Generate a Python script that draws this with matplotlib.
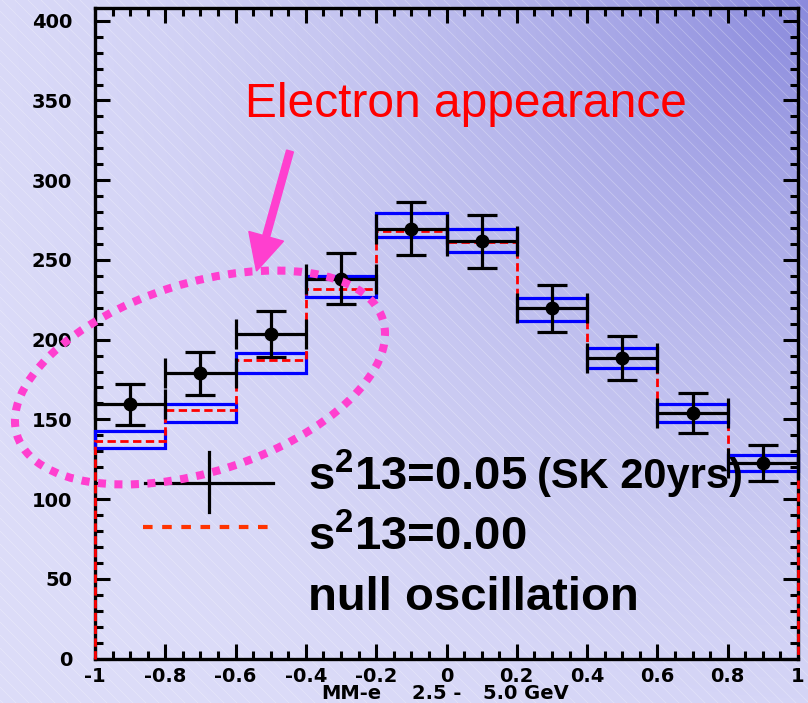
import numpy as np
import matplotlib
matplotlib.use("Agg")
import matplotlib.pyplot as plt
from matplotlib.patches import Rectangle, Ellipse, FancyArrow
from matplotlib.collections import LineCollection
from matplotlib.lines import Line2D
from matplotlib.transforms import IdentityTransform
from matplotlib.ticker import MultipleLocator, FixedLocator, FixedFormatter

plt.rcParams['font.family'] = ['Liberation Sans', 'DejaVu Sans']
plt.rcParams['mathtext.fontset'] = 'custom'
plt.rcParams['mathtext.rm'] = 'Liberation Sans:bold'
plt.rcParams['mathtext.bf'] = 'Liberation Sans:bold'
plt.rcParams['mathtext.it'] = 'Liberation Sans:bold'

# ---------------- data ----------------
bin_edges = [-1.0, -0.8, -0.6, -0.4, -0.2, 0.0, 0.2, 0.4, 0.6, 0.8, 1.0]
bin_centers = [-0.9, -0.7, -0.5, -0.3, -0.1, 0.1, 0.3, 0.5, 0.7, 0.9]
s13_005 = [159.4, 178.9, 203.5, 238.3, 269.6, 261.6, 219.6, 188.5, 153.8, 122.7]
s13_005_err = [12.7, 13.6, 14.6, 16.0, 16.5, 16.5, 14.6, 13.7, 12.5, 11.2]
s13_000 = [136.2, 155.8, 187.2, 231.5, 268.3, 261.4, 219.6, 188.2, 153.8, 122.7]
null_upper = [142.9, 159.6, 191.4, 239.9, 279.2, 269.4, 225.9, 194.7, 159.6, 127.7]
null_lower = [132.2, 148.5, 179.3, 226.5, 264.5, 254.7, 211.7, 182.2, 148.2, 117.9]
x_ticks = [-1.0, -0.8, -0.6, -0.4, -0.2, 0.0, 0.2, 0.4, 0.6, 0.8, 1.0]
x_tick_labels = ["-1", "-0.8", "-0.6", "-0.4", "-0.2", "0", "0.2", "0.4", "0.6", "0.8", "1"]
y_ticks = [0, 50, 100, 150, 200, 250, 300, 350, 400]
y_tick_labels = ["0", "50", "100", "150", "200", "250", "300", "350", "400"]

W, H = 808, 703
fig = plt.figure(figsize=(W / 100, H / 100), dpi=100)

def fx(px):
    return px / W

def fy(py):
    return 1 - py / H

# ---------------- background ----------------
bg = fig.add_axes([0, 0, 1, 1], zorder=-10)
xx, yy = np.meshgrid(np.arange(W), np.arange(H))
d = np.sqrt((W - xx) ** 2 + (yy * 1.0) ** 2)
f = np.clip(1 - d / 1000.0, 0, 1) ** 2
light = np.array([0.865, 0.865, 0.975])
dark = np.array([0.54, 0.54, 0.865])
img = light[None, None, :] * (1 - f[..., None]) + dark[None, None, :] * f[..., None]
bg.imshow(img, extent=[0, W, H, 0], aspect='auto', interpolation='bilinear')
segs = []
for c in range(-W, H, 13):
    segs.append([(0, c), (W, c + W)])
bg.add_collection(LineCollection(segs, colors='white', linewidths=0.6, alpha=0.28))
bg.set_xlim(0, W)
bg.set_ylim(H, 0)
bg.axis('off')

# ---------------- main axes ----------------
ax = fig.add_axes([fx(95), fy(658.5), fx(798) - fx(95), (658.5 - 8.3) / H])
ax.set_facecolor('none')
ax.set_xlim(-1, 1)
ax.set_ylim(0, 407.8)

# null oscillation boxes
for i in range(len(bin_centers)):
    r = Rectangle((bin_edges[i], null_lower[i]), bin_edges[i + 1] - bin_edges[i],
                  null_upper[i] - null_lower[i], fill=False, edgecolor='#0000ff',
                  linewidth=2.3, zorder=2.6, clip_on=False)
    ax.add_patch(r)

# s13 = 0.00 histogram
ax.stairs(s13_000, bin_edges, baseline=0, color='#ff0000', linewidth=2.0,
          linestyle=(0, (3, 1.6)), zorder=3, clip_on=False)

# s13 = 0.05 data
half = np.diff(bin_edges) / 2
ax.errorbar(bin_centers, s13_005, xerr=half, yerr=s13_005_err, fmt='o', color='black',
            markersize=9, linewidth=2.3, capsize=11, capthick=2.3, zorder=4, clip_on=False)

# ticks
for sp in ax.spines.values():
    sp.set_linewidth(2.4)
    sp.set_zorder(2.5)
ax.xaxis.set_major_locator(FixedLocator(x_ticks))
ax.xaxis.set_major_formatter(FixedFormatter(x_tick_labels))
ax.xaxis.set_minor_locator(MultipleLocator(0.05))
ax.yaxis.set_major_locator(FixedLocator(y_ticks))
ax.yaxis.set_major_formatter(FixedFormatter(y_tick_labels))
ax.yaxis.set_minor_locator(MultipleLocator(10))
ax.tick_params(which='both', direction='in', top=True, right=True, width=2.2)
ax.tick_params(which='major', length=11)
ax.tick_params(which='minor', length=5.5)
ax.tick_params(axis='y', which='major', pad=16.5)
ax.tick_params(axis='x', which='major', pad=6)
for lab in ax.get_xticklabels() + ax.get_yticklabels():
    lab.set_fontfamily('DejaVu Sans')
    lab.set_fontweight('bold')
    lab.set_fontsize(14)

# x axis title (ROOT style)
xl_kw = dict(family='DejaVu Sans', fontweight='bold', fontsize=14, va='baseline', ha='left')
fig.text(fx(321), fy(699), "MM-e", **xl_kw)
fig.text(fx(412), fy(699), "2.5 -", **xl_kw)
fig.text(fx(483), fy(699), "5.0 GeV", **xl_kw)

# ---------------- legend ----------------
fig.add_artist(Line2D([fx(145), fx(273)], [fy(483), fy(483)], color='black', linewidth=2.3))
fig.add_artist(Line2D([fx(209), fx(209)], [fy(452), fy(512)], color='black', linewidth=2.3))
fig.add_artist(Line2D([fx(143), fx(272)], [fy(527), fy(527)], color='#ff3300', linewidth=3.0,
                      linestyle=(0, (2.3, 2.3))))
lg_kw = dict(fontweight='bold', fontsize=34, va='baseline', ha='left', color='black')
fig.text(fx(308), fy(490), r"s$^{\mathbf{2}}$13=0.05", **lg_kw)
fig.text(fx(537), fy(488), "(SK 20yrs)", fontweight='bold', fontsize=30, va='baseline', ha='left')
fig.text(fx(308), fy(550), r"s$^{\mathbf{2}}$13=0.00", **lg_kw)
fig.text(fx(308), fy(610), "null oscillation", **lg_kw)

# ---------------- annotation ----------------
fig.text(fx(245), fy(117), "Electron appearance", color='#ff0000', fontsize=34.5,
         va='baseline', ha='left')
pink = '#ff3fcf'
ell = Ellipse((200, H - 377.5), 383.6, 188.6, angle=17.6, fill=False, edgecolor=pink,
              linewidth=5.8, linestyle=(0, (1.0, 1.05)), transform=IdentityTransform(), zorder=6)
ell.set_capstyle('butt')
fig.add_artist(ell)
arr = FancyArrow(290, H - 151, 256.5 - 290, (H - 271) - (H - 151), width=7, head_width=36,
                 head_length=36, length_includes_head=True, color=pink,
                 transform=IdentityTransform(), zorder=6)
fig.add_artist(arr)

fig.savefig("out.png", dpi=100)
